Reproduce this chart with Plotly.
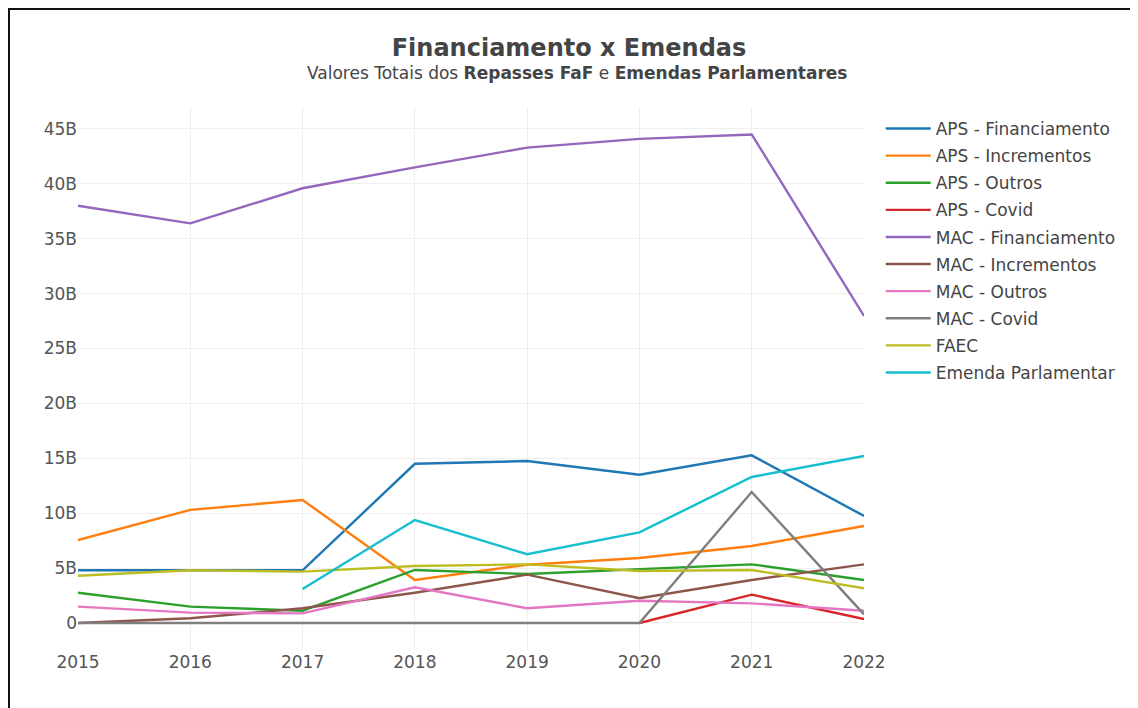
import plotly.graph_objects as go

years = [2015, 2016, 2017, 2018, 2019, 2020, 2021, 2022]

aps_financiamento = [4.8, 4.8, 4.8, 14.5, 14.75, 13.5, 15.27, 9.75]
aps_incrementos = [7.56, 10.3, 11.2, 3.92, 5.31, 5.92, 7.01, 8.84]
aps_outros = [2.76, 1.49, 1.12, 4.83, 4.46, 4.89, 5.34, 3.92]
aps_covid = [None, None, None, None, None, 0.0, 2.58, 0.36]
mac_financiamento = [38.0, 36.4, 39.6, 41.5, 43.3, 44.1, 44.5, 27.97]
mac_incrementos = [0.0, 0.43, 1.34, 2.76, 4.4, 2.25, 3.92, 5.34]
mac_outros = [1.49, 0.94, 0.88, 3.25, 1.34, 2.03, 1.79, 1.12]
mac_covid = [0.0, 0.0, 0.0, 0.0, 0.0, 0.0, 11.93, 0.79]
faec = [4.31, 4.8, 4.68, 5.19, 5.34, 4.74, 4.83, 3.16]
emenda_parlamentar = [None, None, 3.1, 9.38, 6.26, 8.26, 13.3, 15.21]

series_names = ["APS - Financiamento", "APS - Incrementos", "APS - Outros", "APS - Covid",
                "MAC - Financiamento", "MAC - Incrementos", "MAC - Outros", "MAC - Covid",
                "FAEC", "Emenda Parlamentar"]
series_values = [aps_financiamento, aps_incrementos, aps_outros, aps_covid,
                 mac_financiamento, mac_incrementos, mac_outros, mac_covid,
                 faec, emenda_parlamentar]
colors = ["#1f77b4", "#ff7f0e", "#2ca02c", "#d62728", "#9467bd",
          "#8c564b", "#e377c2", "#7f7f7f", "#bcbd22", "#17becf"]

y_tickvals = [0, 5, 10, 15, 20, 25, 30, 35, 40, 45]
y_ticktext = ["0", "5B", "10B", "15B", "20B", "25B", "30B", "35B", "40B", "45B"]

FONT = "DejaVu Sans"

fig = go.Figure()
for name, vals, col in zip(series_names, series_values, colors):
    fig.add_trace(go.Scatter(x=years, y=vals, mode="lines", name=name, legendgroup=name,
                             line=dict(color=col, width=2.4), connectgaps=False))

# figure is placed at page offset (8, 8) by the browser's body margin
W, H = 1130, 700
L, T = 70, 99
R = W - 856
B = H - 642
pw, ph = W - L - R, H - T - B

def px_to_paper_x(px):
    return (px - L) / pw

def px_to_paper_y(py):
    return (H - B - py) / ph

fig.update_layout(
    width=W, height=H,
    margin=dict(l=L, r=R, t=T, b=B, autoexpand=False),
    paper_bgcolor="white", plot_bgcolor="white",
    font=dict(family=FONT, size=17, color="#444"),
    title=dict(text="<b>Financiamento x Emendas</b>", x=px_to_paper_x(561), xref="paper",
               xanchor="center", y=1 - 40 / H, yanchor="middle",
               font=dict(family=FONT, size=24, color="#444")),
    xaxis=dict(range=[2015, 2022], tickvals=years, ticktext=[str(y) for y in years],
               showgrid=True, gridcolor="#efefef", gridwidth=1, zeroline=False,
               showline=False, ticks="", tickfont=dict(size=17, color="#555")),
    yaxis=dict(range=[-2.46, 47.0], tickvals=y_tickvals, ticktext=y_ticktext,
               showgrid=True, gridcolor="#efefef", gridwidth=1, zeroline=False,
               showline=False, ticks="", tickfont=dict(size=17, color="#555")),
    legend=dict(font=dict(size=17, color="#444"), x=1.02 + 1 / pw, y=1 - 4 / ph,
                xanchor="left", yanchor="top", bgcolor="rgba(0,0,0,0)",
                tracegroupgap=2, itemwidth=45),
    showlegend=True,
    annotations=[dict(text="Valores Totais dos <b>Repasses FaF</b> e <b>Emendas Parlamentares</b>",
                      xref="paper", yref="paper", x=px_to_paper_x(569),
                      y=px_to_paper_y(65), xanchor="center", yanchor="middle",
                      showarrow=False, font=dict(family=FONT, size=17, color="#444"))],
    shapes=[
        dict(type="line", xref="paper", yref="paper",
             x0=px_to_paper_x(1), x1=px_to_paper_x(1),
             y0=px_to_paper_y(0), y1=px_to_paper_y(H + 10),
             line=dict(color="#111", width=2)),
        dict(type="line", xref="paper", yref="paper",
             x0=px_to_paper_x(0), x1=px_to_paper_x(W + 10),
             y0=px_to_paper_y(1), y1=px_to_paper_y(1),
             line=dict(color="#111", width=2)),
    ],
)

fig.write_html("out.html")
